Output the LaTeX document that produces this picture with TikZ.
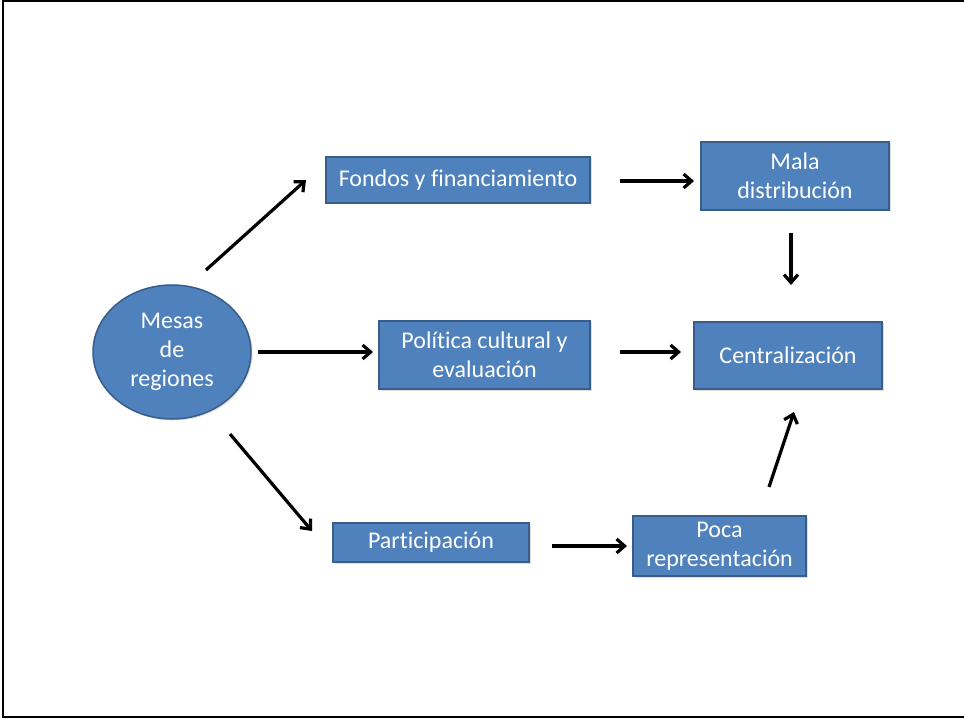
\documentclass[tikz,border=0pt]{standalone}
\usepackage{fontspec}
\setmainfont{Carlito}[Ligatures={NoCommon}]
\usetikzlibrary{shapes.geometric,arrows.meta,shadows}
\definecolor{boxfill}{HTML}{4F81BD}
\definecolor{boxline}{HTML}{385D8A}
\begin{document}
\begin{tikzpicture}[x=1pt,y=-1pt,
  box/.style={draw=boxline,fill=boxfill,line width=1.5pt,text=white,
    align=center,inner sep=0pt,
    font=\fontsize{24}{29}\selectfont,
    drop shadow={opacity=0.25,shadow xshift=1.5pt,shadow yshift=-1.5pt}},
  arr/.style={line width=3.2pt,-{Straight Barb[length=8pt,width=14pt,line width=3.2pt]}}]
\useasboundingbox (0,0) rectangle (964,719);
% outer frame
\draw[line width=2.5pt] (966,1) -- (3,1) -- (3,717) -- (966,717);

% nodes
\node[box,ellipse,minimum width=158pt,minimum height=134pt] (mesas) at (172,352) {Mesas\\de\\regiones};
\node[box,minimum width=264pt,minimum height=46pt] (fondos) at (458,180) {Fondos y financiamiento};
\node[box,minimum width=188pt,minimum height=68pt] (mala) at (795,176) {Mala\\distribución};
\node[box,minimum width=211pt,minimum height=68pt] (politica) at (484.5,355) {Política cultural y\\evaluación};
\node[box,minimum width=188pt,minimum height=67pt] (central) at (788,355.5) {Centralización};
\node[box,minimum width=196pt,minimum height=39pt] (partic) at (431,542.5) {Participación};
\node[box,minimum width=173pt,minimum height=60pt] (poca) at (719.5,546) {Poca\\representación};

% free-standing connector end points
\coordinate (a1) at (206,270); \coordinate (b1) at (306,180);
\coordinate (a2) at (258,352); \coordinate (b2) at (373,352);
\coordinate (a3) at (230,434); \coordinate (b3) at (312,531);
\coordinate (a4) at (620,181); \coordinate (b4) at (694,181);
\coordinate (a5) at (791,233); \coordinate (b5) at (791,285);
\coordinate (a6) at (620,352); \coordinate (b6) at (681,352);
\coordinate (a7) at (552,546); \coordinate (b7) at (627,546);
\coordinate (a8) at (769,487); \coordinate (b8) at (794,412);

\foreach \i in {1,...,8} \draw[arr] (a\i) -- (b\i);
\end{tikzpicture}
\end{document}
